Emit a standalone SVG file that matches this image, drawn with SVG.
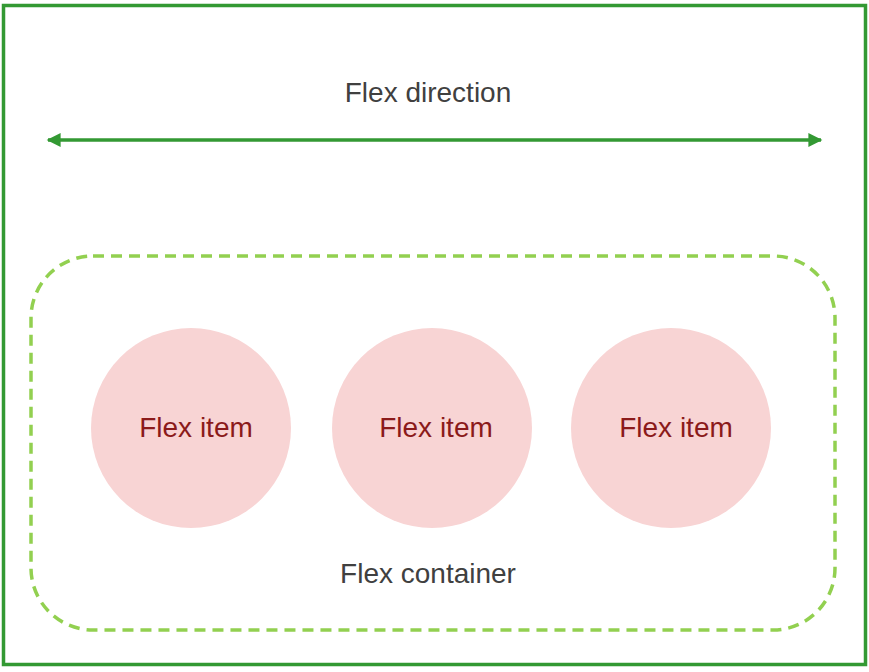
<svg xmlns="http://www.w3.org/2000/svg" width="869" height="672" viewBox="0 0 869 672">
<style>
.lbl{font-family:"Liberation Sans",Arial,sans-serif;font-size:28px;text-anchor:middle}
.gray{fill:#404040}
.item{fill:#8b1a1a}
.circ{fill:#f8d4d4}
</style>
<defs>
<marker id="ah" viewBox="0 0 10 10" refX="9" refY="5" markerWidth="4.4" markerHeight="4" orient="auto-start-reverse" markerUnits="strokeWidth">
<path d="M0,0 L10,5 L0,10 Z" fill="#339933"/>
</marker>
</defs>
<rect width="869" height="672" fill="#ffffff"/>
<g id="outer">
<rect x="3.5" y="5.5" width="862" height="659" fill="none" stroke="#339933" stroke-width="3.5"/>
<text class="lbl gray" x="428" y="102">Flex direction</text>
</g>
<g id="connectors">
<line x1="48" y1="140" x2="821" y2="140" stroke="#339933" stroke-width="3.5" marker-start="url(#ah)" marker-end="url(#ah)"/>
</g>
<g id="container">
<rect x="31" y="256" width="804" height="374" rx="62" ry="62" fill="none" stroke="#92d050" stroke-width="3.5" stroke-dasharray="11 7"/>
<text class="lbl gray" x="428" y="583">Flex container</text>
</g>
<g id="item1">
<circle class="circ" cx="191" cy="428" r="100"/>
<text class="lbl item" x="196" y="437">Flex item</text>
</g>
<g id="item2">
<circle class="circ" cx="432" cy="428" r="100"/>
<text class="lbl item" x="436" y="437">Flex item</text>
</g>
<g id="item3">
<circle class="circ" cx="671" cy="428" r="100"/>
<text class="lbl item" x="676" y="437">Flex item</text>
</g>
</svg>
